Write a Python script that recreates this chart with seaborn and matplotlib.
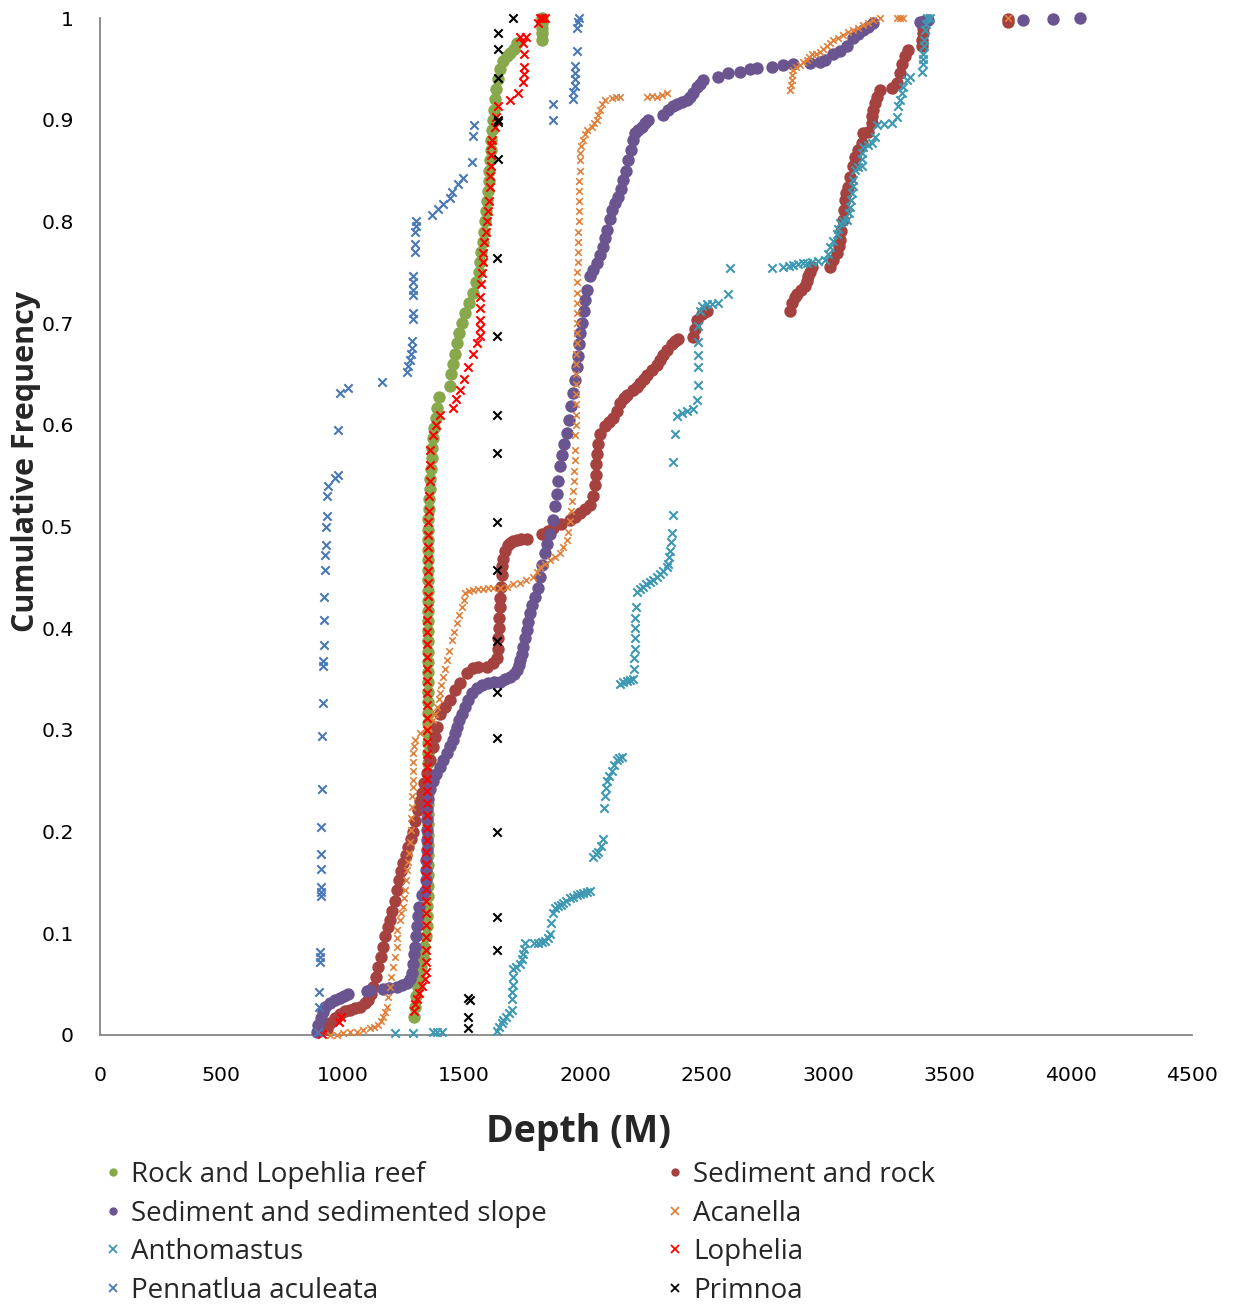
import pandas as pd
import seaborn as sns
import matplotlib.pyplot as plt
from matplotlib.lines import Line2D

# depth (m), cumulative frequency
reef_pts = [(1294, 0.018), (1297, 0.028), (1303, 0.038), (1309, 0.047), (1316, 0.057), (1324, 0.067),
            (1331, 0.077), (1337, 0.087), (1342, 0.097), (1346, 0.107), (1348, 0.117), (1349, 0.127),
            (1350, 0.137), (1350, 0.147), (1350, 0.157), (1350, 0.167), (1350, 0.177), (1350, 0.187),
            (1350, 0.197), (1350, 0.207), (1350, 0.217), (1350, 0.227), (1350, 0.237), (1350, 0.247),
            (1350, 0.257), (1350, 0.267), (1350, 0.277), (1350, 0.287), (1350, 0.297), (1350, 0.307),
            (1350, 0.317), (1351, 0.327), (1351, 0.337), (1351, 0.347), (1351, 0.357), (1351, 0.367),
            (1351, 0.377), (1351, 0.387), (1351, 0.397), (1351, 0.407), (1351, 0.417), (1351, 0.427),
            (1351, 0.437), (1351, 0.447), (1351, 0.457), (1351, 0.467), (1351, 0.477), (1351, 0.487),
            (1351, 0.497), (1353, 0.507), (1355, 0.517), (1357, 0.527), (1359, 0.537), (1361, 0.547),
            (1364, 0.557), (1367, 0.567), (1370, 0.577), (1374, 0.587), (1378, 0.597), (1383, 0.607),
            (1389, 0.617), (1398, 0.627), (1442, 0.638), (1447, 0.65), (1455, 0.66), (1463, 0.67),
            (1471, 0.68), (1480, 0.69), (1492, 0.70), (1505, 0.71), (1521, 0.72), (1537, 0.73),
            (1550, 0.74), (1560, 0.75), (1566, 0.76), (1570, 0.77), (1578, 0.78), (1582, 0.79),
            (1587, 0.80), (1591, 0.81), (1595, 0.82), (1599, 0.83), (1603, 0.84), (1603, 0.85),
            (1607, 0.86), (1611, 0.87), (1611, 0.88), (1615, 0.89), (1620, 0.90), (1624, 0.91),
            (1628, 0.92), (1632, 0.93), (1640, 0.94), (1648, 0.95), (1662, 0.958), (1676, 0.963),
            (1690, 0.966), (1706, 0.970), (1718, 0.975), (1820, 0.978), (1820, 0.985), (1820, 0.99),
            (1821, 0.995), (1821, 1.0)]

sed_rock_pts = [(935, 0.006), (948, 0.012), (968, 0.017), (989, 0.021), (1010, 0.024), (1030, 0.025),
                (1050, 0.027), (1071, 0.028), (1090, 0.031), (1104, 0.034), (1115, 0.04), (1125, 0.047),
                (1136, 0.057), (1146, 0.067), (1156, 0.077), (1166, 0.087), (1176, 0.097), (1186, 0.106),
                (1195, 0.113), (1205, 0.122), (1214, 0.132), (1223, 0.143), (1232, 0.152), (1241, 0.161),
                (1249, 0.169), (1259, 0.177), (1269, 0.185), (1280, 0.193), (1290, 0.2), (1300, 0.21),
                (1310, 0.221), (1319, 0.23), (1326, 0.238), (1336, 0.248), (1346, 0.258), (1360, 0.27),
                (1372, 0.283), (1380, 0.293), (1388, 0.303), (1401, 0.316), (1422, 0.323), (1442, 0.329),
                (1463, 0.339), (1484, 0.346), (1511, 0.356), (1537, 0.361), (1558, 0.362), (1594, 0.362),
                (1620, 0.366), (1635, 0.371), (1640, 0.38), (1642, 0.39), (1644, 0.40), (1646, 0.41),
                (1648, 0.421), (1650, 0.43), (1652, 0.441), (1655, 0.452), (1658, 0.461), (1662, 0.468),
                (1669, 0.476), (1680, 0.482), (1690, 0.484), (1702, 0.486), (1717, 0.487), (1735, 0.488),
                (1758, 0.488), (1820, 0.493), (1845, 0.496), (1867, 0.499), (1900, 0.502), (1937, 0.506),
                (1958, 0.509), (1978, 0.513), (1998, 0.517), (2019, 0.521), (2033, 0.53), (2040, 0.541),
                (2044, 0.551), (2046, 0.561), (2047, 0.571), (2052, 0.581), (2060, 0.591), (2081, 0.599),
                (2098, 0.603), (2114, 0.607), (2130, 0.614), (2143, 0.621), (2158, 0.626), (2170, 0.629),
                (2197, 0.634), (2212, 0.637), (2225, 0.641), (2240, 0.645), (2253, 0.649), (2273, 0.654),
                (2294, 0.659), (2308, 0.664), (2320, 0.669), (2338, 0.674), (2356, 0.679), (2370, 0.682),
                (2382, 0.684), (2444, 0.686), (2452, 0.694), (2459, 0.703), (2480, 0.709), (2500, 0.712),
                (2843, 0.712), (2852, 0.72), (2862, 0.726), (2871, 0.729), (2890, 0.733), (2905, 0.736),
                (2912, 0.741), (2918, 0.746), (2926, 0.75), (2933, 0.755), (3008, 0.755), (3022, 0.762),
                (3036, 0.769), (3044, 0.776), (3049, 0.782), (3055, 0.791), (3062, 0.801), (3066, 0.811),
                (3070, 0.821), (3076, 0.828), (3082, 0.834), (3092, 0.844), (3103, 0.854), (3111, 0.863),
                (3125, 0.87), (3139, 0.877), (3144, 0.887), (3165, 0.888), (3180, 0.897), (3183, 0.904),
                (3185, 0.91), (3193, 0.916), (3200, 0.922), (3214, 0.929), (3262, 0.931), (3283, 0.936),
                (3297, 0.946), (3304, 0.955), (3317, 0.963), (3330, 0.969), (3386, 0.972), (3388, 0.978),
                (3390, 0.985), (3392, 0.99), (3392, 0.995), (3742, 0.996), (3742, 0.999)]

slope_pts = [(893, 0.003), (900, 0.01), (910, 0.017), (918, 0.023), (927, 0.028), (948, 0.031),
             (968, 0.034), (989, 0.036), (1005, 0.038), (1022, 0.04), (1099, 0.043), (1113, 0.044),
             (1166, 0.045), (1190, 0.046), (1223, 0.047), (1245, 0.049), (1264, 0.051), (1278, 0.055),
             (1285, 0.061), (1290, 0.07), (1295, 0.08), (1298, 0.087), (1303, 0.097), (1308, 0.107),
             (1312, 0.117), (1316, 0.126), (1326, 0.138), (1339, 0.142), (1343, 0.152), (1344, 0.162),
             (1345, 0.172), (1346, 0.182), (1346, 0.192), (1346, 0.202), (1346, 0.212), (1346, 0.222),
             (1350, 0.232), (1360, 0.242), (1372, 0.25), (1386, 0.257), (1401, 0.264), (1415, 0.27),
             (1429, 0.277), (1442, 0.284), (1455, 0.29), (1463, 0.297), (1470, 0.303), (1480, 0.31),
             (1491, 0.316), (1504, 0.323), (1517, 0.329), (1535, 0.336), (1552, 0.341), (1575, 0.344),
             (1599, 0.346), (1625, 0.347), (1648, 0.347), (1670, 0.35), (1690, 0.352), (1705, 0.355),
             (1717, 0.359), (1725, 0.364), (1731, 0.369), (1737, 0.375), (1743, 0.382), (1750, 0.39),
             (1758, 0.398), (1765, 0.406), (1772, 0.415), (1782, 0.423), (1793, 0.431), (1803, 0.44),
             (1813, 0.45), (1823, 0.462), (1834, 0.474), (1844, 0.483), (1854, 0.493), (1867, 0.506),
             (1875, 0.52), (1882, 0.532), (1889, 0.545), (1896, 0.559), (1905, 0.57), (1914, 0.581),
             (1923, 0.592), (1932, 0.605), (1940, 0.618), (1949, 0.631), (1957, 0.644), (1964, 0.657),
             (1970, 0.668), (1974, 0.679), (1978, 0.69), (1988, 0.7), (1994, 0.712), (1999, 0.723),
             (2008, 0.733), (2019, 0.746), (2033, 0.752), (2047, 0.759), (2060, 0.767), (2073, 0.775),
             (2083, 0.784), (2090, 0.792), (2100, 0.802), (2109, 0.811), (2122, 0.818), (2136, 0.824),
             (2146, 0.832), (2157, 0.841), (2167, 0.85), (2177, 0.86), (2187, 0.87), (2198, 0.88),
             (2205, 0.887), (2218, 0.89), (2232, 0.893), (2246, 0.897), (2260, 0.9), (2321, 0.905),
             (2342, 0.91), (2360, 0.913), (2377, 0.915), (2398, 0.917), (2418, 0.919), (2432, 0.922),
             (2445, 0.926), (2459, 0.932), (2472, 0.935), (2486, 0.939), (2548, 0.942), (2589, 0.946),
             (2637, 0.947), (2679, 0.95), (2706, 0.951), (2768, 0.952), (2816, 0.954), (2857, 0.955),
             (2926, 0.956), (2967, 0.957), (2988, 0.959), (3021, 0.965), (3050, 0.968), (3077, 0.972),
             (3103, 0.98), (3125, 0.984), (3144, 0.988), (3165, 0.991), (3185, 0.995), (3379, 0.996),
             (3395, 0.997), (3412, 0.998), (3804, 0.998), (3927, 0.999), (4039, 1.0)]

acanella_pts = [(948, 0.0), (975, 0.0), (1001, 0.002), (1030, 0.003), (1058, 0.003), (1085, 0.005),
                (1113, 0.007), (1130, 0.008), (1146, 0.01), (1156, 0.014), (1166, 0.018), (1174, 0.023),
                (1181, 0.028), (1188, 0.037), (1195, 0.047), (1201, 0.057), (1207, 0.067), (1215, 0.077),
                (1223, 0.087), (1223, 0.095), (1225, 0.103), (1236, 0.113), (1242, 0.12), (1249, 0.126),
                (1253, 0.135), (1257, 0.143), (1261, 0.152), (1265, 0.162), (1269, 0.17), (1273, 0.179),
                (1276, 0.19), (1280, 0.202), (1282, 0.213), (1284, 0.224), (1286, 0.235), (1288, 0.244),
                (1289, 0.251), (1290, 0.26), (1290, 0.268), (1290, 0.277), (1294, 0.284), (1298, 0.29),
                (1319, 0.297), (1346, 0.303), (1372, 0.31), (1380, 0.316), (1388, 0.323), (1395, 0.33),
                (1401, 0.336), (1407, 0.344), (1413, 0.352), (1421, 0.36), (1429, 0.369), (1439, 0.378),
                (1449, 0.388), (1460, 0.396), (1470, 0.405), (1480, 0.413), (1491, 0.421), (1498, 0.428),
                (1504, 0.435), (1520, 0.437), (1537, 0.438), (1558, 0.439), (1578, 0.439), (1600, 0.44),
                (1620, 0.44), (1648, 0.44), (1676, 0.441), (1703, 0.443), (1731, 0.444), (1757, 0.447),
                (1784, 0.45), (1800, 0.455), (1813, 0.46), (1833, 0.463), (1854, 0.467), (1875, 0.47),
                (1896, 0.474), (1910, 0.48), (1923, 0.487), (1929, 0.495), (1935, 0.505), (1940, 0.515),
                (1945, 0.525), (1949, 0.535), (1952, 0.545), (1955, 0.555), (1957, 0.565), (1958, 0.575),
                (1959, 0.59), (1960, 0.6), (1961, 0.61), (1962, 0.62), (1962, 0.63), (1962, 0.64),
                (1963, 0.65), (1963, 0.66), (1963, 0.67), (1964, 0.68), (1964, 0.69), (1965, 0.70),
                (1965, 0.71), (1966, 0.72), (1966, 0.73), (1967, 0.74), (1967, 0.75), (1968, 0.76),
                (1969, 0.77), (1970, 0.78), (1971, 0.79), (1972, 0.80), (1973, 0.81), (1973, 0.82),
                (1974, 0.83), (1975, 0.84), (1976, 0.85), (1977, 0.86), (1978, 0.867), (1984, 0.874),
                (1990, 0.88), (1998, 0.886), (2006, 0.89), (2026, 0.893), (2036, 0.897), (2047, 0.9),
                (2053, 0.905), (2060, 0.91), (2070, 0.915), (2081, 0.919), (2108, 0.921), (2125, 0.922),
                (2143, 0.922), (2253, 0.922), (2275, 0.923), (2294, 0.922), (2315, 0.924), (2335, 0.926),
                (2843, 0.929), (2846, 0.934), (2850, 0.939), (2853, 0.944), (2857, 0.949), (2870, 0.952),
                (2885, 0.954), (2898, 0.957), (2912, 0.959), (2922, 0.962), (2933, 0.965), (2950, 0.965),
                (2967, 0.967), (2980, 0.97), (2995, 0.972), (3008, 0.975), (3021, 0.978), (3040, 0.98),
                (3062, 0.983), (3083, 0.986), (3103, 0.988), (3124, 0.99), (3144, 0.993), (3165, 0.995),
                (3185, 0.998), (3214, 1.0), (3283, 1.0), (3296, 1.0), (3309, 1.0), (3742, 1.0)]

anthomastus_pts = [(1216, 0.002), (1290, 0.002), (1372, 0.003), (1390, 0.003), (1409, 0.003),
                   (1635, 0.004), (1645, 0.008), (1655, 0.012), (1661, 0.015), (1672, 0.018), (1685, 0.022),
                   (1697, 0.025), (1697, 0.035), (1699, 0.042), (1700, 0.049), (1702, 0.057), (1702, 0.065),
                   (1715, 0.067), (1731, 0.07), (1737, 0.075), (1743, 0.08), (1747, 0.085), (1751, 0.09),
                   (1790, 0.09), (1805, 0.09), (1820, 0.091), (1834, 0.092), (1845, 0.095), (1854, 0.099),
                   (1860, 0.11), (1867, 0.12), (1877, 0.125), (1887, 0.127), (1898, 0.128), (1908, 0.13),
                   (1922, 0.132), (1937, 0.135), (1950, 0.136), (1964, 0.138), (1977, 0.139), (1990, 0.14),
                   (2005, 0.141), (2019, 0.142), (2032, 0.175), (2042, 0.178), (2052, 0.18), (2063, 0.186),
                   (2073, 0.193), (2077, 0.223), (2081, 0.235), (2085, 0.243), (2088, 0.25), (2098, 0.255),
                   (2109, 0.26), (2119, 0.265), (2129, 0.27), (2140, 0.272), (2150, 0.273),
                   (2143, 0.345), (2157, 0.347), (2170, 0.348), (2184, 0.349), (2197, 0.35), (2199, 0.36),
                   (2201, 0.371), (2203, 0.38), (2204, 0.39), (2205, 0.4), (2206, 0.41), (2207, 0.421),
                   (2212, 0.436), (2225, 0.439), (2238, 0.441), (2252, 0.443), (2267, 0.445), (2280, 0.447),
                   (2294, 0.45), (2307, 0.453), (2320, 0.456), (2335, 0.46), (2341, 0.463), (2346, 0.47),
                   (2349, 0.476), (2353, 0.485), (2356, 0.494), (2362, 0.511), (2362, 0.563), (2370, 0.591),
                   (2377, 0.609), (2398, 0.612), (2418, 0.614), (2444, 0.616), (2459, 0.624), (2464, 0.639),
                   (2464, 0.657), (2464, 0.669), (2464, 0.681), (2464, 0.697), (2472, 0.712), (2480, 0.717),
                   (2500, 0.719), (2520, 0.719), (2548, 0.72), (2589, 0.729), (2596, 0.754), (2768, 0.754),
                   (2816, 0.755), (2840, 0.756), (2857, 0.757), (2875, 0.758), (2898, 0.759), (2915, 0.759),
                   (2933, 0.76), (2960, 0.761), (2988, 0.762), (3000, 0.768), (3008, 0.775), (3022, 0.781),
                   (3036, 0.788), (3042, 0.793), (3049, 0.798), (3063, 0.8), (3077, 0.801), (3085, 0.808),
                   (3091, 0.814), (3095, 0.821), (3098, 0.828), (3101, 0.835), (3104, 0.841), (3111, 0.851),
                   (3125, 0.853), (3139, 0.854), (3139, 0.861), (3141, 0.867), (3146, 0.873), (3163, 0.875),
                   (3180, 0.877), (3194, 0.883), (3201, 0.895), (3230, 0.896), (3262, 0.897), (3283, 0.903),
                   (3290, 0.913), (3297, 0.919), (3303, 0.926), (3310, 0.932), (3324, 0.939), (3338, 0.942),
                   (3386, 0.947), (3393, 0.955), (3393, 0.96), (3393, 0.965), (3395, 0.972), (3396, 0.978),
                   (3399, 0.988), (3404, 0.994), (3407, 1.0), (3420, 1.0)]

lophelia_pts = [(914, 0.001), (985, 0.013), (993, 0.018), (1294, 0.024), (1300, 0.03), (1306, 0.035),
                (1316, 0.041), (1328, 0.048), (1338, 0.055), (1342, 0.062), (1343, 0.072), (1343, 0.084),
                (1343, 0.096), (1343, 0.108), (1343, 0.12), (1343, 0.132), (1344, 0.144), (1344, 0.156),
                (1344, 0.168), (1344, 0.18), (1346, 0.192), (1346, 0.204), (1346, 0.216), (1346, 0.228),
                (1346, 0.24), (1346, 0.252), (1346, 0.264), (1346, 0.276), (1346, 0.288), (1346, 0.3),
                (1347, 0.312), (1347, 0.324), (1347, 0.336), (1348, 0.348), (1348, 0.36), (1348, 0.372),
                (1349, 0.384), (1349, 0.396), (1349, 0.408), (1350, 0.42), (1350, 0.432), (1350, 0.444),
                (1350, 0.456), (1351, 0.468), (1351, 0.48), (1351, 0.492), (1352, 0.504), (1354, 0.515),
                (1356, 0.53), (1358, 0.545), (1360, 0.56), (1360, 0.575), (1372, 0.59), (1385, 0.60),
                (1401, 0.61), (1455, 0.617), (1467, 0.625), (1484, 0.634), (1500, 0.645), (1517, 0.657),
                (1537, 0.67), (1554, 0.68), (1566, 0.687), (1566, 0.695), (1566, 0.703), (1566, 0.715),
                (1566, 0.726), (1570, 0.738), (1574, 0.749), (1578, 0.76), (1578, 0.769), (1582, 0.78),
                (1591, 0.79), (1595, 0.80), (1599, 0.81), (1603, 0.82), (1607, 0.834), (1607, 0.845),
                (1611, 0.854), (1611, 0.865), (1611, 0.875), (1615, 0.88), (1628, 0.893), (1632, 0.903),
                (1640, 0.913), (1690, 0.919), (1723, 0.926), (1743, 0.937), (1747, 0.945), (1747, 0.952),
                (1747, 0.965), (1743, 0.975), (1755, 0.981), (1731, 0.981), (1805, 0.995), (1813, 1.0),
                (1821, 1.0), (1834, 1.0)]

pennatula_pts = [(898, 0.003), (902, 0.028), (904, 0.042), (907, 0.072), (907, 0.077), (907, 0.082),
                 (909, 0.137), (909, 0.141), (909, 0.146), (910, 0.163), (910, 0.178), (912, 0.205),
                 (915, 0.242), (916, 0.294), (917, 0.326), (920, 0.363), (920, 0.368), (923, 0.383),
                 (924, 0.408), (924, 0.431), (927, 0.457), (928, 0.472), (930, 0.482), (931, 0.5),
                 (934, 0.51), (934, 0.53), (941, 0.54), (968, 0.548), (982, 0.551), (982, 0.595),
                 (989, 0.631), (1023, 0.636), (1161, 0.642), (1264, 0.652), (1270, 0.658), (1278, 0.664),
                 (1282, 0.67), (1284, 0.676), (1284, 0.682), (1288, 0.704), (1288, 0.71), (1288, 0.728),
                 (1291, 0.733), (1291, 0.74), (1291, 0.746), (1298, 0.77), (1298, 0.778), (1300, 0.79),
                 (1302, 0.795), (1302, 0.8), (1367, 0.806), (1394, 0.812), (1415, 0.817), (1442, 0.823),
                 (1449, 0.829), (1477, 0.837), (1497, 0.843), (1532, 0.858), (1538, 0.884), (1542, 0.895),
                 (1868, 0.9), (1868, 0.915), (1950, 0.92), (1950, 0.927), (1957, 0.933), (1957, 0.94),
                 (1957, 0.946), (1957, 0.953), (1964, 0.968), (1964, 0.99), (1971, 0.996), (1974, 1.0)]

primnoa_pts = [(1518, 0.007), (1518, 0.018), (1525, 0.034), (1518, 0.036), (1635, 0.084), (1635, 0.116),
               (1635, 0.2), (1635, 0.292), (1635, 0.337), (1635, 0.387), (1635, 0.457), (1635, 0.504),
               (1637, 0.572), (1637, 0.61), (1637, 0.687), (1637, 0.764), (1641, 0.861), (1641, 0.898),
               (1641, 0.9), (1641, 0.941), (1641, 0.97), (1641, 0.985), (1703, 1.0)]

series_names = ["Rock and Lopehlia reef", "Sediment and rock", "Sediment and sedimented slope",
                "Acanella", "Anthomastus", "Lophelia", "Pennatlua aculeata", "Primnoa"]
series_points = [reef_pts, sed_rock_pts, slope_pts, acanella_pts, anthomastus_pts,
                 lophelia_pts, pennatula_pts, primnoa_pts]
series_colors = ["#88A84C", "#A5423F", "#6B5591", "#E0803A", "#3E98B2", "#FF0000", "#4A78B5", "#000000"]
series_markers = ["o", "o", "o", "x", "x", "x", "x", "x"]

x_ticks = [0, 500, 1000, 1500, 2000, 2500, 3000, 3500, 4000, 4500]
y_ticks = [0, 0.1, 0.2, 0.3, 0.4, 0.5, 0.6, 0.7, 0.8, 0.9, 1]
y_tick_labels = ["0", "0.1", "0.2", "0.3", "0.4", "0.5", "0.6", "0.7", "0.8", "0.9", "1"]

sns.set_style("white")
plt.rcParams["font.family"] = ["DejaVu Sans"]

W, H = 1238, 1304
fig = plt.figure(figsize=(W / 100, H / 100), dpi=100)
ax = fig.add_axes([100 / W, (H - 1035) / H, 1092 / W, 1017 / H])

for i, (name, pts) in enumerate(zip(series_names, series_points)):
    df = pd.DataFrame(pts, columns=["depth", "freq"])
    col = series_colors[i]
    if series_markers[i] == "o":
        sns.scatterplot(data=df, x="depth", y="freq", ax=ax, color=col, marker="o", s=80,
                        linewidth=0, edgecolor=col, legend=False, clip_on=False, zorder=3 + i)
    else:
        small = name == "Acanella"
        sns.scatterplot(data=df, x="depth", y="freq", ax=ax, color=col, marker="x",
                        s=22 if small else 36, linewidth=1.2 if small else 1.5,
                        legend=False, clip_on=False, zorder=3 + i)

axis_grey = "#868686"
ax.set_xlim(0, 4500)
ax.set_ylim(0, 1)
ax.set_xticks(x_ticks)
ax.set_xticklabels([str(t) for t in x_ticks])
ax.set_yticks(y_ticks)
ax.set_yticklabels(y_tick_labels)
for side in ["top", "right"]:
    ax.spines[side].set_visible(False)
for side in ["left", "bottom"]:
    ax.spines[side].set_color(axis_grey)
    ax.spines[side].set_linewidth(1.3)
ax.tick_params(axis="both", direction="out", length=6, width=1.3, color=axis_grey,
               labelsize=14.7, labelcolor="black")
ax.tick_params(axis="x", pad=16)
ax.tick_params(axis="y", pad=13)

ax.set_xlabel("Depth (M)", fontsize=27, fontweight="bold", family="Open Sans")
ax.xaxis.label.set_va("center")
ax.xaxis.set_label_coords(0.438, -0.095)
ax.set_ylabel("Cumulative Frequency", fontsize=22, fontweight="bold", family="Open Sans")
ax.yaxis.label.set_va("center")
ax.yaxis.set_label_coords(-0.068, 0.564)

# legend: two columns, row-major order as in the original
handles = []
for name, col, mk in zip(series_names, series_colors, series_markers):
    if mk == "o":
        h = Line2D([], [], linestyle="none", marker="o", markersize=6, color=col, markeredgewidth=0)
    else:
        h = Line2D([], [], linestyle="none", marker="x", markersize=6, color=col, markeredgewidth=1.3)
    handles.append(h)

leg_kw = dict(loc="upper left", frameon=False, handlelength=0.7, handletextpad=0.3,
              labelspacing=0.38, borderpad=0, borderaxespad=0, prop={"family": "Open Sans", "size": 20})
leg1 = fig.legend(handles[0::2], series_names[0::2], bbox_to_anchor=(103 / W, 1 - 1161 / H), **leg_kw)
leg2 = fig.legend(handles[1::2], series_names[1::2], bbox_to_anchor=(665 / W, 1 - 1161 / H), **leg_kw)

fig.savefig("out.png", dpi=100)
